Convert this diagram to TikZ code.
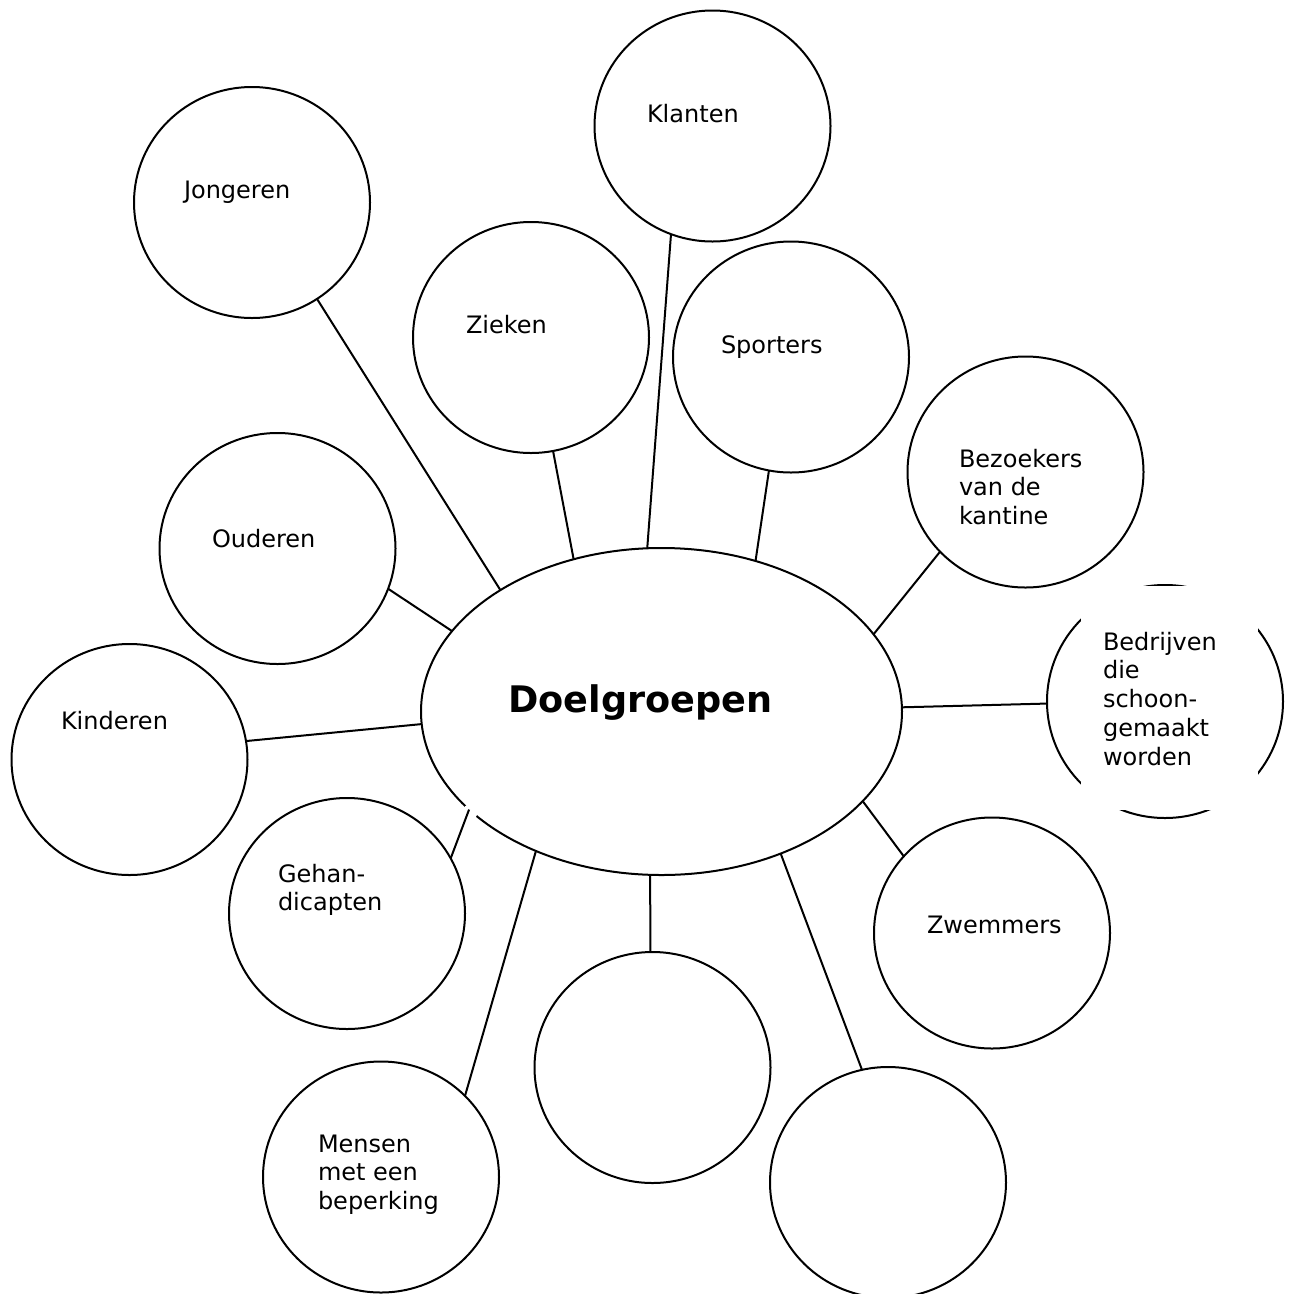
\documentclass[tikz,border=0pt]{standalone}
\usepackage{fontspec}
\setmainfont{DejaVu Sans}
\usetikzlibrary{shapes.geometric}
\begin{document}
\begin{tikzpicture}[x=1pt,y=-1pt,
  bub/.style={draw=black, line width=2pt, ellipse, inner sep=0pt, outer sep=0pt, minimum width=236pt, minimum height=231pt},
  lbl/.style={anchor=base west, inner sep=0pt, outer sep=0pt, align=left, font=\fontsize{24}{28.8}\selectfont},
  conn/.style={line width=2pt}]
\useasboundingbox (0,0) rectangle (1291,1294);
\clip (0,0) rectangle (1291,1294);
% central ellipse
\node[bub, minimum width=481pt, minimum height=327pt] (doel) at (661.5,711.5) {};
% bubbles
\node[bub] (jong) at (252,202.5) {};
\node[bub] (klant) at (712.5,126) {};
\node[bub] (ziek) at (531,337.5) {};
\node[bub] (sport) at (791,357) {};
\node[bub] (bezoek) at (1025.5,472) {};
\node[bub, minimum height=233pt] (bedrijf) at (1165,701.5) {};
\node[bub] (oud) at (277.5,548.5) {};
\node[bub] (kind) at (129.5,759.5) {};
\node[bub] (gehand) at (347,913.5) {};
\node[bub] (zwem) at (992,933) {};
\node[bub] (leeg1) at (652.5,1067.5) {};
\node[bub] (leeg2) at (888,1182.5) {};
\node[bub] (mens) at (381,1177) {};
% white text box hiding part of the Bedrijven circle
\fill[white] (1081,586) rectangle (1258,809.5);
% small gap in the central ellipse
\fill[white] (470.5,811.5) circle (7.5);
% connectors
\draw[conn] (jong.-56.8) -- (doel.143.4);
\draw[conn] (oud.-20.6) -- (doel.159.6);
\draw[conn] (kind.9.9) -- (doel.-177);
\draw[conn] (gehand.28.7) -- (doel.207.9);
\draw[conn] (mens.44.5) -- (doel.228.45);
\draw[conn] (doel.266) -- (leeg1.91.2);
\draw[conn] (doel.-50.3) -- (leeg2.103.9);
\draw[conn] (doel.-24.2) -- (zwem.139.9);
\draw[conn] (doel.1.07) -- (bedrijf.181.2);
\draw[conn] (doel.20.4) -- (bezoek.223.8);
\draw[conn] (doel.58.15) -- (sport.259.1);
\draw[conn] (doel.95.1) -- (klant.249.95);
\draw[conn] (doel.120.7) -- (ziek.-79.95);
% texts (base anchor of a multi-line node = baseline of its last line)
\node[anchor=base west, inner sep=0pt, font=\fontsize{36.6}{42}\selectfont\bfseries] (t-doel) at (508,712) {Doelgroepen};
\node[lbl] (t-jong) at (184,198) {Jongeren};
\node[lbl] (t-klant) at (647,122) {Klanten};
\node[lbl] (t-ziek) at (466,333) {Zieken};
\node[lbl] (t-sport) at (721,353) {Sporters};
\node[lbl] (t-bezoek) at (959,524.6) {Bezoekers\\van de\\kantine};
\node[lbl] (t-bedrijf) at (1103,765.2) {Bedrijven\\die\\schoon-\\gemaakt\\worden};
\node[lbl] (t-oud) at (212,547) {Ouderen};
\node[lbl] (t-kind) at (61,729) {Kinderen};
\node[lbl] (t-gehand) at (278,910.8) {Gehan-\\dicapten};
\node[lbl] (t-zwem) at (927,933) {Zwemmers};
\node[lbl] (t-mens) at (318,1209.6) {Mensen\\met een\\beperking};
\end{tikzpicture}
\end{document}
